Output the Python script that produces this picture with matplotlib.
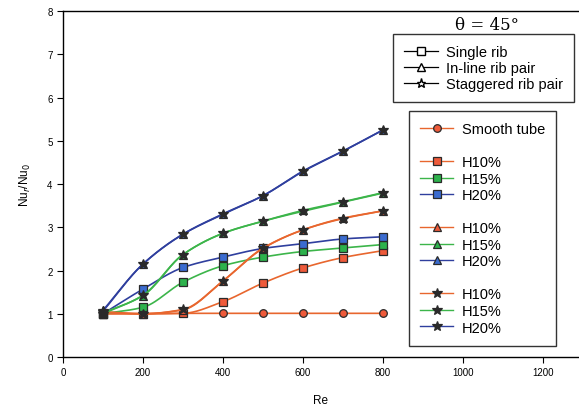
import numpy as np
import matplotlib
matplotlib.use("Agg")
import matplotlib.pyplot as plt
from matplotlib.lines import Line2D

plt.rcParams['font.family'] = ['Liberation Sans', 'DejaVu Sans']

# Data
re_vals = [100, 200, 300, 400, 500, 600, 700, 800]
smooth_tube = [1.00, 1.00, 1.01, 1.01, 1.01, 1.01, 1.01, 1.01]

single_h10 = [1.00, 1.00, 1.01, 1.28, 1.71, 2.06, 2.30, 2.46]
single_h15 = [1.00, 1.15, 1.73, 2.11, 2.31, 2.44, 2.52, 2.60]
single_h20 = [1.00, 1.57, 2.07, 2.31, 2.51, 2.62, 2.73, 2.78]

inline_h10 = [1.05, 1.00, 1.09, 1.76, 2.52, 2.94, 3.21, 3.38]
inline_h15 = [1.02, 1.42, 2.37, 2.86, 3.14, 3.39, 3.59, 3.80]
inline_h20 = [1.08, 2.15, 2.84, 3.31, 3.73, 4.30, 4.76, 5.25]

stag_h10 = [1.03, 1.00, 1.10, 1.76, 2.51, 2.94, 3.20, 3.38]
stag_h15 = [1.00, 1.43, 2.37, 2.86, 3.14, 3.37, 3.58, 3.79]
stag_h20 = [1.06, 2.15, 2.84, 3.30, 3.73, 4.29, 4.76, 5.25]

ORANGE = '#e8662e'
GREEN = '#3cb54a'
BLUE = '#2f3f9e'
SQ_ORANGE = '#ee5a3a'
SQ_GREEN = '#2db24c'
SQ_BLUE = '#3a6bcf'
DARK = '#2a2a2a'


def pchip(x, y, n=200):
    # monotone cubic for the smooth connecting curves
    x = np.asarray(x, float)
    y = np.asarray(y, float)
    h = np.diff(x)
    d = np.diff(y) / h
    m = np.zeros_like(y)
    for k in range(1, len(x) - 1):
        if d[k - 1] * d[k] > 0:
            w1 = 2 * h[k] + h[k - 1]
            w2 = h[k] + 2 * h[k - 1]
            m[k] = (w1 + w2) / (w1 / d[k - 1] + w2 / d[k])
    m[0] = d[0]
    m[-1] = d[-1]
    xs = np.linspace(x[0], x[-1], n)
    idx = np.clip(np.searchsorted(x, xs) - 1, 0, len(x) - 2)
    t = (xs - x[idx]) / h[idx]
    h00 = 2 * t**3 - 3 * t**2 + 1
    h10 = t**3 - 2 * t**2 + t
    h01 = -2 * t**3 + 3 * t**2
    h11 = t**3 - t**2
    ys = h00 * y[idx] + h10 * h[idx] * m[idx] + h01 * y[idx + 1] + h11 * h[idx] * m[idx + 1]
    return xs, ys


fig = plt.figure(figsize=(5.79, 4.10), dpi=100)
ax = fig.add_axes([0.1088, 0.1268, 0.8912, 0.8439])


def draw(y, color, marker, face, size, z):
    xs, ys = pchip(re_vals, y)
    ax.plot(xs, ys, color=color, lw=1.2, zorder=z)
    ax.plot(re_vals, y, linestyle='none', marker=marker, markersize=size,
            markerfacecolor=face, markeredgecolor=DARK, markeredgewidth=0.9, zorder=z + 0.5)


draw(smooth_tube, ORANGE, 'o', SQ_ORANGE, 5.5, 2)
draw(single_h10, ORANGE, 's', SQ_ORANGE, 6, 3)
draw(single_h15, GREEN, 's', SQ_GREEN, 6, 3)
draw(single_h20, BLUE, 's', SQ_BLUE, 6, 3)
draw(inline_h10, ORANGE, '^', SQ_ORANGE, 6, 4)
draw(inline_h15, GREEN, '^', SQ_GREEN, 6, 4)
draw(inline_h20, BLUE, '^', SQ_BLUE, 6, 4)
draw(stag_h10, ORANGE, '*', DARK, 7, 5)
draw(stag_h15, GREEN, '*', DARK, 7, 5)
draw(stag_h20, BLUE, '*', DARK, 7, 5)

ax.set_xlim(0, 1290)
ax.set_ylim(0, 8)
ax.set_xticks([0, 200, 400, 600, 800, 1000, 1200])
ax.set_yticks(range(0, 9))
ax.tick_params(labelsize=7, length=4, width=0.8, direction='out')
ax.spines['right'].set_visible(False)
for s in ['left', 'bottom', 'top']:
    ax.spines[s].set_linewidth(1.0)
ax.set_xlabel('Re', fontsize=8.5, labelpad=12)
ax.set_ylabel('Nu$_r$/Nu$_0$', fontsize=8.5, labelpad=10)

FS = 10.5

# Configuration legend
cfg = [Line2D([], [], color='black', lw=0.9, marker='s', markersize=5.5,
              markerfacecolor='white', markeredgecolor='black', label='Single rib'),
       Line2D([], [], color='black', lw=0.9, marker='^', markersize=5.5,
              markerfacecolor='white', markeredgecolor='black', label='In-line rib pair'),
       Line2D([], [], color='black', lw=0.9, marker='*', markersize=6.5,
              markerfacecolor='white', markeredgecolor='black', label='Staggered rib pair')]
leg1 = fig.legend(handles=cfg, loc='upper left', bbox_to_anchor=(0.6788, 0.9146),
                  fontsize=FS, frameon=True, fancybox=False, edgecolor='black',
                  handlelength=2.33, labelspacing=0.13, borderpad=0.75,
                  handletextpad=0.55, borderaxespad=0)
leg1.get_frame().set_linewidth(1.0)
fig.text(0.841, 0.939, 'θ = 45°', ha='center', va='center', fontsize=12,
         family=['DejaVu Serif'])


def h(color, marker, face, size=6):
    return Line2D([], [], color=color, lw=1.0, marker=marker, markersize=size,
                  markerfacecolor=face, markeredgecolor=DARK, markeredgewidth=0.9)


blank = Line2D([], [], linestyle='none', marker='none')
handles = [h(ORANGE, 'o', SQ_ORANGE, 5.5), blank,
           h(ORANGE, 's', SQ_ORANGE), h(GREEN, 's', SQ_GREEN), h(BLUE, 's', SQ_BLUE), blank,
           h(ORANGE, '^', SQ_ORANGE), h(GREEN, '^', SQ_GREEN), h(BLUE, '^', SQ_BLUE), blank,
           h(ORANGE, '*', DARK, 7), h(GREEN, '*', DARK, 7), h(BLUE, '*', DARK, 7)]
labels = ['Smooth tube', ' ', 'H10%', 'H15%', 'H20%', ' ',
          'H10%', 'H15%', 'H20%', ' ', 'H10%', 'H15%', 'H20%']
leg2 = fig.legend(handles=handles, labels=labels, loc='upper left',
                  bbox_to_anchor=(0.7064, 0.7268), fontsize=FS, frameon=True,
                  fancybox=False, edgecolor='black', handlelength=2.3,
                  labelspacing=0.175, borderpad=0.75, handletextpad=0.55, borderaxespad=0)
leg2.get_frame().set_linewidth(1.0)

fig.savefig('out.png', dpi=100)
